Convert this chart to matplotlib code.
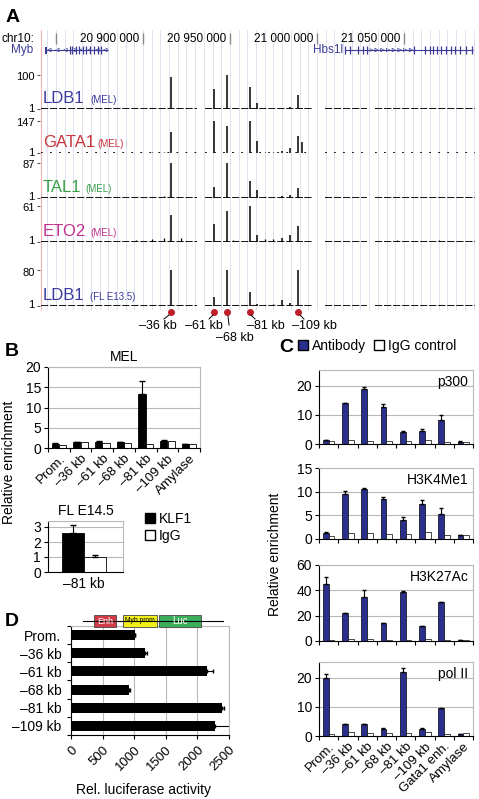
import matplotlib
matplotlib.use("Agg")
import matplotlib.pyplot as plt
import matplotlib.transforms as mtransforms
import numpy as np
from matplotlib.patches import Patch, Rectangle

plt.rcParams["font.family"] = ["Liberation Sans", "DejaVu Sans"]

W, H = 479, 799

# ---------------- data ----------------
# panel A: genome browser
gx_min, gx_max = 20840800, 21091400
coord_ticks = [20850000, 20900000, 20950000, 21000000, 21050000]
coord_labels = ["", "20 900 000", "20 950 000", "21 000 000", "21 050 000"]
data_gaps = [(20931000, 20935600), (20997700, 21004600), (21028700, 21033300)]

myb_span = (20843700, 20879900)
myb_exons = [20858000, 20859200, 20861500, 20863200, 20865500, 20867200, 20869500, 20871800, 20874100, 20875900]
hbs1l_span = (21016100, 21089700)
hbs1l_exons = [21016100, 21019000, 21023600, 21026400, 21028700, 21055700, 21062000, 21064900,
               21066700, 21069000, 21071300, 21074100, 21077000, 21079300, 21082200, 21085600, 21089100]

peak_pos = [20916000, 20940800, 20948300, 20961500, 20965500, 20979900, 20984500, 20989100, 20991400]
ldb1_mel = [94, 59, 100, 65, 18, 5, 8, 42, 3]
gata1_mel = [97, 147, 124, 147, 55, 10, 25, 78, 50]
tal1_mel = [87, 29, 87, 44, 20, 5, 8, 25, 3]
eto2_mel = [46, 31, 53, 61, 12, 8, 12, 27, 3]
ldb1_fl = [80, 20, 80, 31, 5, 15, 8, 80, 3]

minor_pos = [20870000, 20896000, 20905000, 20912000, 20922000, 20952000, 20970000, 20975000, 21046000, 21070000]
ldb1_mel_minor = [3, 3, 4, 3, 5, 3, 4, 3, 3, 3]
gata1_minor = [2, 2, 4, 5, 3, 4, 4, 5, 2, 6]
tal1_minor = [3, 3, 4, 5, 4, 4, 3, 3, 3, 3]
eto2_minor = [3, 4, 6, 7, 8, 5, 6, 6, 4, 4]
ldb1_fl_minor = [2, 3, 3, 4, 4, 3, 3, 5, 2, 4]

element_pos = [20916000, 20940800, 20948300, 20961500, 20989100]
element_labels = ["–36 kb", "–61 kb", "–68 kb", "–81 kb", "–109 kb"]

# panel B
b_cats = ["Prom.", "–36 kb", "–61 kb", "–68 kb", "–81 kb", "–109 kb", "Amylase"]
b_ab = [1.1, 1.4, 1.5, 1.4, 13.4, 1.8, 1.0]
b_ab_err = [0.1, 0.1, 0.2, 0.1, 3.2, 0.1, 0.05]
b_igg = [0.8, 1.5, 1.2, 1.3, 1.0, 1.8, 1.0]
fl_vals = [2.6, 1.0]
fl_err = [0.55, 0.15]

# panel C
c_cats = ["Prom.", "–36 kb", "–61 kb", "–68 kb", "–81 kb", "–109 kb", "Gata1 enh.", "Amylase"]
p300_ab = [1.3, 14.0, 19.0, 12.7, 4.3, 4.5, 8.2, 0.8]
p300_err = [0.2, 0.3, 0.6, 1.2, 0.3, 0.8, 1.8, 0.1]
p300_igg = [0.9, 1.4, 1.2, 1.1, 1.1, 1.3, 0.7, 0.8]
k4_ab = [1.3, 9.5, 10.5, 8.5, 4.1, 7.3, 5.3, 0.9]
k4_err = [0.2, 0.6, 0.2, 0.3, 0.5, 1.0, 1.2, 0.05]
k4_igg = [0.7, 1.3, 1.2, 1.1, 1.1, 1.4, 0.8, 0.9]
k27_ab = [45, 22, 35, 14, 39, 11.5, 30.5, 0.8]
k27_err = [5.5, 0.3, 5.5, 0.3, 0.8, 0.5, 0.3, 0.1]
k27_igg = [0.5, 1.5, 1.2, 0.8, 0.8, 1.5, 0.6, 0.8]
pol2_ab = [20, 4, 4, 2.5, 22, 2.5, 9.5, 0.8]
pol2_err = [1.5, 0.2, 0.2, 0.2, 1.5, 0.2, 0.2, 0.05]
pol2_igg = [0.8, 1.3, 1.2, 1.1, 1.2, 1.3, 0.8, 0.9]

# panel D
d_cats = ["Prom.", "–36 kb", "–61 kb", "–68 kb", "–81 kb", "–109 kb"]
d_vals = [1010, 1170, 2150, 920, 2390, 2280]
d_err = [0, 30, 90, 10, 30, 230]

NAVY = "#2a2f8c"
GENE = "#3c3c96"
GRID = "#b8b8b8"

fig = plt.figure(figsize=(W / 100, H / 100), dpi=100)


def px_axes(x0, y0, x1, y1):
    return fig.add_axes([x0 / W, 1 - y1 / H, (x1 - x0) / W, (y1 - y0) / H])


# ---------------- panel A ----------------
bg = px_axes(40, 28, 476, 345)
bg.set_xlim(gx_min, gx_max)
bg.set_ylim(345, 28)
bg.axis("off")
bg.vlines(np.arange(20845000, 21091000, 5000), 30, 310, color="#dadaec", lw=0.6)
bg.vlines([gx_min + 300], 30, 310, color="#f2b0b0", lw=0.8)
bg.vlines(coord_ticks, 33, 44, color="#888888", lw=1.0)
for p, lab in zip(coord_ticks, coord_labels):
    bg.text(p - 2200, 38.5, lab, ha="right", va="center", fontsize=8.5)

bg.hlines(50, *myb_span, color=GENE, lw=0.8)
bg.add_patch(Rectangle((myb_span[0], 46.5), 1300, 7, color=GENE, lw=0))
bg.vlines(myb_exons, 46, 54, color=GENE, lw=0.9)
bg.scatter(np.linspace(myb_span[0] + 2500, myb_span[1] - 1500, 8), [50] * 8,
           marker="<", s=6, facecolor="none", edgecolor=GENE, lw=0.5)
bg.hlines(50, *hbs1l_span, color=GENE, lw=0.8)
bg.vlines(hbs1l_exons, 46, 54, color=GENE, lw=0.9)
bg.scatter(np.linspace(21031000, 21054000, 8), [50] * 8,
           marker=">", s=6, facecolor="none", edgecolor=GENE, lw=0.5)

bg.scatter(element_pos, [312] * 5, s=16, color="#c01f2a", zorder=5)

tracks = [
    ("LDB1", "(MEL)", "#3a3a9c", 100, 75, 109, ldb1_mel, ldb1_mel_minor, 90, (0, (4, 1))),
    ("GATA1", "(MEL)", "#c8343a", 147, 121, 153, gata1_mel, gata1_minor, 97, (0, (1, 4))),
    ("TAL1", "(MEL)", "#35a048", 87, 163, 198, tal1_mel, tal1_minor, 85, (0, (4, 1))),
    ("ETO2", "(MEL)", "#c0308c", 61, 206, 242, eto2_mel, eto2_minor, 90, (0, (4, 1))),
    ("LDB1", "(FL E13.5)", "#3a3a9c", 80, 270, 306, ldb1_fl, ldb1_fl_minor, 90, (0, (4, 1))),
]
up = mtransforms.ScaledTranslation(0, 1.5 / 100, fig.dpi_scale_trans)
down = mtransforms.ScaledTranslation(0, -1.5 / 100, fig.dpi_scale_trans)
for name, sub, col, top, ytop, ybase, vals, minor, subx, ls in tracks:
    ax = px_axes(40, ytop, 476, ybase)
    ax.patch.set_alpha(0)
    ax.set_xlim(gx_min, gx_max)
    ax.set_ylim(1, top)
    for s in ax.spines.values():
        s.set_visible(False)
    ax.set_xticks([])
    ax.set_yticks([1, top])
    ax.set_yticklabels(["1", str(top)])
    ax.tick_params(axis="y", length=2, width=0.8, color="#555555", labelsize=8, pad=2)
    lab_lo, lab_hi = ax.get_yticklabels()
    lab_lo.set_transform(lab_lo.get_transform() + up)
    lab_hi.set_transform(lab_hi.get_transform() + down)
    edges = [gx_min + 800] + [v for g in data_gaps for v in g] + [gx_max - 400]
    for a, b in zip(edges[0::2], edges[1::2]):
        ax.hlines(1.6 if top < 120 else 2, a, b, color="black", lw=1.3, linestyles=[ls])
    ax.vlines(peak_pos, 1, vals, color="black", lw=1.1)
    ax.vlines(minor_pos, 1, minor, color="black", lw=0.9)
    fig.text(43 / W, 1 - (ybase - 6) / H, name, color=col, fontsize=12, va="baseline")
    fig.text(subx / W, 1 - (ybase - 6) / H, sub, color=col, fontsize=7, va="baseline")

fig.text(1 / W, 1 - 38.5 / H, "chr10:", fontsize=8.5, va="center")
fig.text(33 / W, 1 - 50 / H, "Myb", fontsize=8.5, va="center", ha="right", color=GENE)
fig.text(343 / W, 1 - 50 / H, "Hbs1l", fontsize=8.5, va="center", ha="right", color=GENE)

# ---------------- panel B ----------------
def excel_style(ax, n, ylim, yticks):
    ax.set_xlim(-0.5, n - 0.5)
    ax.set_ylim(*ylim)
    ax.set_yticks(yticks)
    ax.set_xticks(np.arange(n))
    ax.set_xticks(np.arange(n + 1) - 0.5, minor=True)
    ax.tick_params(axis="x", which="major", length=0, labelsize=9.5)
    ax.tick_params(axis="x", which="minor", length=3, width=0.8, direction="out")
    ax.tick_params(axis="y", length=3, width=0.8, labelsize=10, pad=2)
    ax.yaxis.grid(True, color=GRID, lw=0.8)
    ax.set_axisbelow(True)
    ax.spines["top"].set_color(GRID)
    ax.spines["right"].set_color(GRID)


axb = px_axes(48, 367, 200, 448)
x = np.arange(len(b_cats))
excel_style(axb, len(b_cats), (0, 20), [0, 5, 10, 15, 20])
axb.bar(x - 0.17, b_ab, 0.33, color="black", edgecolor="black", lw=0.6)
axb.bar(x + 0.17, b_igg, 0.33, color="white", edgecolor="black", lw=0.6)
axb.errorbar(x - 0.17, b_ab, yerr=[np.zeros(len(x)), b_ab_err], fmt="none", ecolor="black",
             elinewidth=0.8, capsize=2)
axb.set_xticklabels(b_cats, rotation=45, ha="right", rotation_mode="anchor")
axb.set_title("MEL", fontsize=10, pad=4)

axf = px_axes(48, 521, 123, 572)
axf.set_xlim(0, 1)
axf.set_ylim(0, 3.4)
axf.set_yticks([0, 1, 2, 3])
axf.tick_params(axis="y", length=3, width=0.8, labelsize=10, pad=2)
axf.tick_params(axis="x", length=0, labelsize=10)
axf.yaxis.grid(True, color=GRID, lw=0.8)
axf.set_axisbelow(True)
axf.spines["top"].set_color(GRID)
axf.spines["right"].set_color(GRID)
axf.bar([0.333, 0.627], fl_vals, 0.293, color=["black", "white"], edgecolor="black", lw=0.6)
axf.errorbar([0.333, 0.627], fl_vals, yerr=[[0, 0], fl_err], fmt="none", ecolor="black",
             elinewidth=0.8, capsize=2)
axf.set_xticks([0.48])
axf.set_xticklabels(["–81 kb"])
axf.set_title("FL E14.5", fontsize=10, pad=4)

fig.legend(handles=[Patch(fc="black", ec="black"), Patch(fc="white", ec="black")],
           labels=["KLF1", "IgG"], loc="upper left", bbox_to_anchor=(145 / W, 1 - 512 / H),
           frameon=False, fontsize=10, handlelength=0.7, handleheight=0.7,
           handletextpad=0.3, labelspacing=0.2, borderpad=0, borderaxespad=0)
fig.text(9 / W, 1 - 462 / H, "Relative enrichment", rotation=90, fontsize=10,
         ha="center", va="center")

# ---------------- panel C ----------------
c_panels = [
    ("p300", 370, 444, (0, 25.5), [0, 10, 20], p300_ab, p300_err, p300_igg),
    ("H3K4Me1", 468, 539, (0, 15), [0, 5, 10, 15], k4_ab, k4_err, k4_igg),
    ("H3K27Ac", 565, 641, (0, 60), [0, 20, 40, 60], k27_ab, k27_err, k27_igg),
    ("pol II", 662, 736, (0, 25.5), [0, 10, 20], pol2_ab, pol2_err, pol2_igg),
]
xc = np.arange(len(c_cats))
for i, (title, y0, y1, ylim, yt, ab, err, igg) in enumerate(c_panels):
    ax = px_axes(319, y0, 473, y1)
    excel_style(ax, len(c_cats), ylim, yt)
    ax.bar(xc - 0.15, ab, 0.3, color=NAVY, edgecolor="black", lw=0.5)
    ax.bar(xc + 0.15, igg, 0.3, color="white", edgecolor="black", lw=0.5)
    ax.errorbar(xc - 0.15, ab, yerr=[np.zeros(len(xc)), err], fmt="none", ecolor="black",
                elinewidth=0.8, capsize=1.5)
    ax.text(0.97, 0.93, title, transform=ax.transAxes, ha="right", va="top", fontsize=10)
    if i == 3:
        ax.set_xticklabels(c_cats, rotation=45, ha="right", rotation_mode="anchor")
    else:
        ax.set_xticklabels([])

fig.legend(handles=[Patch(fc=NAVY, ec="black"), Patch(fc="white", ec="black")],
           labels=["Antibody", "IgG control"], loc="upper left",
           bbox_to_anchor=(298 / W, 1 - 339 / H), ncol=2, frameon=False, fontsize=10,
           handlelength=0.7, handleheight=0.7, handletextpad=0.3, columnspacing=0.6,
           borderpad=0, borderaxespad=0)
fig.text(275 / W, 1 - 554 / H, "Relative enrichment", rotation=90, fontsize=10,
         ha="center", va="center")

# ---------------- panel D ----------------
axd = px_axes(71, 626, 229, 735)
yd = np.arange(len(d_cats))
axd.barh(yd, d_vals, 0.55, color="black")
axd.errorbar(d_vals, yd, xerr=[np.zeros(len(yd)), d_err], fmt="none", ecolor="black",
             elinewidth=0.8, capsize=1.5)
axd.set_ylim(len(d_cats) - 0.5, -0.5)
axd.set_xlim(0, 2500)
axd.set_xticks([0, 500, 1000, 1500, 2000, 2500])
axd.set_yticks(yd)
axd.set_yticklabels(d_cats)
axd.set_yticks(np.arange(len(d_cats) + 1) - 0.5, minor=True)
axd.tick_params(axis="y", which="major", length=0, labelsize=10, pad=7)
axd.tick_params(axis="y", which="minor", length=3, width=0.8)
axd.tick_params(axis="x", length=3, width=0.8, labelsize=9.5)
axd.set_xticklabels(axd.get_xticks().astype(int), rotation=45, ha="right", rotation_mode="anchor")
axd.xaxis.grid(True, color=GRID, lw=0.8)
axd.set_axisbelow(True)
axd.spines["top"].set_color(GRID)
axd.spines["right"].set_color(GRID)
fig.text(144 / W, 1 - 790 / H, "Rel. luciferase activity", fontsize=10, ha="center", va="center")

# ---------------- overlay: letters, schematic, element labels ----------------
ov = fig.add_axes([0, 0, 1, 1])
ov.set_xlim(0, W)
ov.set_ylim(H, 0)
ov.axis("off")
ov.patch.set_alpha(0)

for s, (lx, ly) in zip("ABCD", [(6, 18), (5, 352), (279, 347), (5, 621)]):
    ov.text(lx, ly, s, fontsize=14, fontweight="bold", va="center")

leaders = [((169, 315), (164, 319)), ((213, 315), (209, 319)), ((228, 316), (229, 325)),
           ((251, 315), (255, 319)), ((300, 315), (304, 319))]
for (xa, ya), (xb, yb) in leaders:
    ov.plot([xa, xb], [ya, yb], color="black", lw=0.7)
for lab, (lx, ly) in zip(element_labels,
                         [(158, 326), (204, 326), (235, 338), (266, 326), (314, 326)]):
    ov.text(lx, ly, lab, fontsize=9, ha="center", va="center")

ov.plot([83, 223], [621, 621], color="black", lw=0.8)
for (bx0, bx1, fc, lab, fs, tc) in [(94, 116, "#d23a48", "Enh", 6.5, "white"),
                                    (123, 157, "#f2ee1a", "Myb prom", 4.8, "black"),
                                    (159, 201, "#3cad5a", "Luc", 7, "white")]:
    ov.add_patch(Rectangle((bx0, 615), bx1 - bx0, 12, facecolor=fc, edgecolor="#444444", lw=0.6))
    ov.text((bx0 + bx1) / 2, 621, lab, fontsize=fs, ha="center", va="center", color=tc)

fig.savefig("out.png", dpi=100)
